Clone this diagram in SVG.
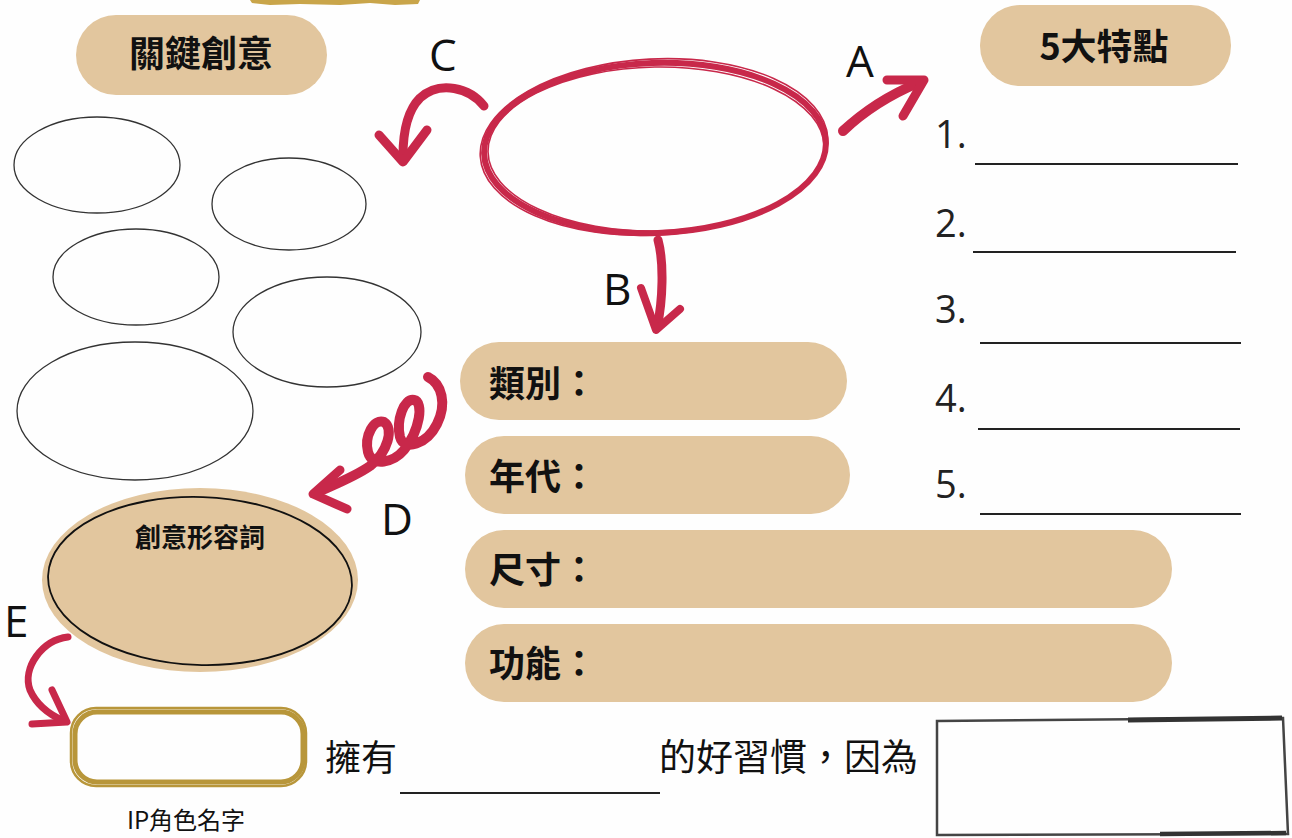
<svg xmlns="http://www.w3.org/2000/svg" width="1292" height="838" viewBox="0 0 1292 838">
<style>
.bg{fill:#fefefe}
.tan{fill:#e2c69e}
.h{font-family:"Noto Sans CJK TC","Noto Sans CJK SC",sans-serif;font-weight:700;fill:#111}
.t{font-family:"Noto Sans CJK TC","Noto Sans CJK SC",sans-serif;font-weight:400;fill:#111}
.lbl{font-family:"Open Sans","Noto Sans",sans-serif;font-size:44px;fill:#111}
.num{font-family:"Open Sans","Noto Sans",sans-serif;font-size:38px;fill:#222}
.ul{stroke:#222;stroke-width:2;fill:none}
.oval{fill:none;stroke:#333;stroke-width:1.3}
.red{fill:none;stroke:#c8284a;stroke-linecap:round;stroke-linejoin:round}
.gold{fill:none;stroke:#b8963a;stroke-linejoin:round}
</style>
<rect class="bg" x="0" y="0" width="1292" height="838"/>
<path d="M250,0 L420,0 L418,4 L395,5 L370,3 L340,5 L300,4 L270,5 L252,3 Z" fill="#c9a54a"/>

<g id="title-key">
<rect class="tan" x="76" y="15" width="251" height="80" rx="40"/>
<text class="h" x="201" y="67" font-size="36" text-anchor="middle">關鍵創意</text>
</g>
<g id="title-five">
<rect class="tan" x="980" y="5" width="251" height="81" rx="40"/>
<text class="h" x="1104" y="60" font-size="36" text-anchor="middle">5大特點</text>
</g>

<g id="center">
<ellipse class="red" cx="655" cy="148" rx="171" ry="85" stroke-width="6" transform="rotate(-2 655 148)"/>
<ellipse class="red" cx="654" cy="147" rx="174" ry="88" stroke-width="1.6" transform="rotate(-3 654 147)"/>
<ellipse class="red" cx="656" cy="149" rx="168" ry="82" stroke-width="1.6" transform="rotate(-1 656 149)"/>
</g>

<g id="ideas">
<ellipse class="oval" cx="97" cy="165" rx="83" ry="48"/>
<ellipse class="oval" cx="289" cy="204" rx="77" ry="46"/>
<ellipse class="oval" cx="136" cy="277" rx="83" ry="48"/>
<ellipse class="oval" cx="327" cy="332" rx="94" ry="55"/>
<ellipse class="oval" cx="135" cy="411" rx="118" ry="69"/>
</g>

<g id="adjective">
<ellipse class="tan" cx="200" cy="580" rx="158" ry="92"/>
<ellipse cx="200" cy="581" rx="152" ry="84" fill="none" stroke="#111" stroke-width="1.8" transform="rotate(2 200 581)"/>
<text class="h" x="200" y="547" font-size="26" text-anchor="middle">創意形容詞</text>
</g>

<g id="ip-name">
<rect class="gold" x="75" y="712" width="228" height="70" rx="22" stroke-width="5"/>
<rect class="gold" x="71" y="708" width="235" height="78" rx="25" stroke-width="2.5"/>
<text class="t" x="186" y="829" font-size="24" text-anchor="middle">IP角色名字</text>
</g>

<g id="fields">
<rect class="tan" x="460" y="342" width="387" height="78" rx="39"/>
<text class="h" x="489" y="397" font-size="36">類別：</text>
<rect class="tan" x="465" y="436" width="385" height="78" rx="39"/>
<text class="h" x="489" y="490" font-size="36">年代：</text>
<rect class="tan" x="465" y="530" width="707" height="78" rx="39"/>
<text class="h" x="489" y="583" font-size="36">尺寸：</text>
<rect class="tan" x="465" y="624" width="707" height="78" rx="39"/>
<text class="h" x="489" y="677" font-size="36">功能：</text>
</g>

<g id="features">
<text class="num" x="935" y="148">1.</text>
<line class="ul" x1="975" y1="164" x2="1238" y2="164"/>
<text class="num" x="935" y="237">2.</text>
<line class="ul" x1="973" y1="252" x2="1236" y2="252"/>
<text class="num" x="935" y="323">3.</text>
<line class="ul" x1="980" y1="343" x2="1241" y2="343"/>
<text class="num" x="935" y="412">4.</text>
<line class="ul" x1="978" y1="429" x2="1240" y2="429"/>
<text class="num" x="935" y="498">5.</text>
<line class="ul" x1="980" y1="514" x2="1241" y2="514"/>
</g>

<g id="sentence">
<text class="t" x="325" y="771" font-size="36">擁有</text>
<line class="ul" x1="400" y1="793" x2="660" y2="793"/>
<text class="t" x="659" y="771" font-size="37">的好習慣，因為</text>
</g>

<g id="reason-box">
<path d="M937,721 L1283,718 L1288,834 L937,835 Z" fill="none" stroke="#444" stroke-width="2.5"/>
<path d="M1128,720 L1282,718" stroke="#333" stroke-width="5" fill="none"/>
<path d="M1160,834 L1286,833" stroke="#333" stroke-width="4.5" fill="none"/>
</g>

<g id="connectors">
<path class="red" stroke-width="9" d="M484,106 C470,88 440,80 420,98 C408,110 403,130 403,156"/>
<path class="red" stroke-width="9" d="M379,135 L403,162 L427,130"/>
<path class="red" stroke-width="10" d="M843,131 C860,115 882,98 918,83"/>
<path class="red" stroke-width="9" d="M887,80 L924,80 L903,116"/>
<path class="red" stroke-width="9" d="M658,240 C664,262 663,300 657,328"/>
<path class="red" stroke-width="8" d="M641,288 L656,330 L680,309"/>
<path class="red" stroke-width="10" d="M428,377 C442,384 447,404 437,424 C427,444 404,452 400,437 C396,420 404,398 414,400 C424,402 420,430 404,450 C394,462 372,468 368,452 C364,436 374,418 384,422 C394,428 388,452 370,466 C356,476 336,484 318,492"/>
<path class="red" stroke-width="9" d="M340,470 L313,494 L347,509"/>
<path class="red" stroke-width="7" d="M68,637 C42,640 22,668 30,690 C37,706 50,715 64,721"/>
<path class="red" stroke-width="7" d="M52,690 L67,722 L32,724"/>
</g>

<g id="labels">
<text class="lbl" x="429" y="71">C</text>
<text class="lbl" x="846" y="77">A</text>
<text class="lbl" x="603" y="305">B</text>
<text class="lbl" x="381" y="535">D</text>
<text class="lbl" x="4" y="637">E</text>
</g>
</svg>
